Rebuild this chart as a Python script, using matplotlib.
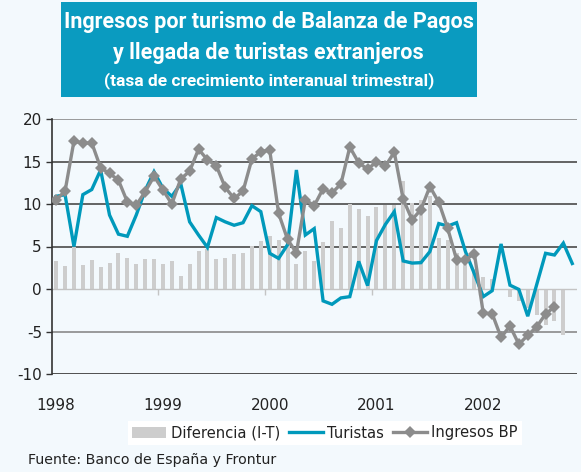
import matplotlib
matplotlib.use("Agg")
import matplotlib.pyplot as plt
from matplotlib.patches import Rectangle, Patch
from matplotlib.lines import Line2D
import numpy as np

# ---- data (monthly, Jan 1998 .. Nov 2002) ----
year_labels = ["1998", "1999", "2000", "2001", "2002"]

diferencia = [3.3, 2.75, 5.0, 2.8, 3.4, 2.6, 3.05, 4.2, 3.65, 3.0, 3.5, 3.5,
              3.0, 3.3, 1.55, 3.0, 4.5, 4.65, 3.5, 3.65, 4.1, 4.25, 5.1, 5.65,
              6.2, 5.8, 6.0, 2.9, 4.5, 3.3, 5.55, 8.0, 7.2, 10.0, 9.4, 8.6,
              9.6, 9.9, 9.9, 12.7, 10.1, 10.5, 10.9, 6.0, 5.8, 4.2, 3.0, 2.3,
              1.45, 1.2, -0.1, -0.9, -1.4, -2.2, -3.0, -4.2, -3.8, -5.4]

turistas = [10.9, 11.1, 5.0, 11.1, 11.7, 14.0, 8.7, 6.45, 6.2, 8.7, 11.6, 13.8,
            11.85, 10.9, 12.4, 7.9, 6.35, 4.9, 8.4, 7.9, 7.5, 7.8, 9.8, 9.1,
            4.2, 3.6, 5.2, 14.0, 6.35, 7.1, -1.4, -1.8, -1.05, -0.9, 3.25, 0.4,
            5.7, 7.6, 9.1, 3.3, 3.05, 3.1, 4.4, 7.7, 7.4, 7.8, 4.4, 1.8,
            -0.9, -0.2, 5.3, 0.45, -0.05, -3.2, 0.5, 4.2, 4.0, 5.4, 3.0]

ingresos = [10.5, 11.5, 17.4, 17.15, 17.2, 14.25, 13.6, 12.8, 10.25, 9.85, 11.45, 13.25,
            11.65, 10.0, 12.95, 13.85, 16.45, 15.2, 14.5, 11.95, 10.65, 11.5, 15.3, 16.15,
            16.35, 8.9, 5.85, 4.25, 10.5, 9.8, 11.8, 11.3, 12.35, 16.7, 14.85, 14.1,
            14.95, 14.45, 16.1, 10.55, 8.15, 9.35, 12.05, 10.2, 7.15, 3.45, 3.45, 4.15,
            -2.85, -2.9, -5.7, -4.35, -6.5, -5.45, -4.45, -2.95, -2.1]

# ---- style ----
BG = "#F3F9FD"
TEAL = "#0A9BC0"
BLUE = "#0099BB"
GRAY = "#8C8C8C"
BARC = "#CDCDCD"

plt.rcParams["font.family"] = ["DejaVu Sans"]

fig = plt.figure(figsize=(5.81, 4.72), dpi=100, facecolor=BG)
ax = fig.add_axes([51.7 / 581, 1 - 374 / 472, (576.7 - 51.7) / 581, (374 - 119) / 472])
ax.set_facecolor(BG)

x_bar = np.arange(len(diferencia))
x_tur = np.arange(len(turistas))
x_ing = np.arange(len(ingresos))

# gridlines
grid_vals = [20, 15, 10, 5, -5, -10]
grid_cols = ["#8A8A8A", "#4A4A4A", "#4A4A4A", "#4A4A4A", "#8A8A8A", "#333333"]
for gv, gc in zip(grid_vals, grid_cols):
    ax.axhline(gv, color=gc, lw=1.2, zorder=1)

ax.bar(x_bar, diferencia, width=0.45, color=BARC, zorder=2, label="Diferencia (I-T)")
# category axis at zero
ax.axhline(0, color="#C4C4C4", lw=1.0, zorder=2.5)
ax.vlines([11.5, 23.5, 35.5, 47.5], -0.75, 0, color="#C4C4C4", lw=1.0, zorder=2.5)

ax.plot(x_tur, turistas, color=BLUE, lw=2.4, zorder=3, solid_joinstyle="miter",
        label="Turistas")
ax.plot(x_ing, ingresos, color=GRAY, lw=2.4, marker="D", markersize=6.5,
        markeredgewidth=0, zorder=4, label="Ingresos BP")

ax.set_xlim(-0.5, 58.5)
ax.set_ylim(-10, 20)
ax.set_yticks([20, 15, 10, 5, 0, -5, -10])
ax.set_yticklabels(["20", "15", "10", "5", "0", "-5", "-10"], fontsize=11, color="#222222")
ax.set_xticks([0, 12, 24, 36, 48])
ax.set_xticklabels(year_labels, fontsize=11, color="#222222")
ax.tick_params(axis="x", length=0, pad=17)
ax.tick_params(axis="y", length=4, width=1, color="#333333", pad=3)

for s in ["top", "right", "bottom"]:
    ax.spines[s].set_visible(False)
ax.spines["left"].set_color("#333333")
ax.spines["left"].set_linewidth(1.2)

# title box
fig.patches.append(Rectangle((61 / 581, 1 - 97 / 472), (476.7 - 61) / 581, 95 / 472,
                             transform=fig.transFigure, facecolor=TEAL, edgecolor="none",
                             zorder=0))
cx = (61 + 476.7) / 2 / 581
fig.text(cx, 1 - 22 / 472, "Ingresos por turismo de Balanza de Pagos", color="white",
         fontsize=15.5, fontweight="bold", ha="center", va="center", family="Roboto")
fig.text(cx, 1 - 53 / 472, "y llegada de turistas extranjeros", color="white",
         fontsize=15.5, fontweight="bold", ha="center", va="center", family="Roboto")
fig.text(cx, 1 - 81 / 472, "(tasa de crecimiento interanual trimestral)", color="white",
         fontsize=12.5, fontweight="bold", ha="center", va="center", family="Roboto")

# legend
handles = [Patch(facecolor=BARC, edgecolor="none"),
           Line2D([], [], color=BLUE, lw=2.4),
           Line2D([], [], color=GRAY, lw=2.4, marker="D", markersize=6, markeredgewidth=0)]
leg = fig.legend(handles, ["Diferencia (I-T)", "Turistas", "Ingresos BP"],
                 loc="center", bbox_to_anchor=(325 / 581, 1 - 433 / 472), ncol=3,
                 frameon=True, fancybox=False, facecolor="white", edgecolor="none",
                 framealpha=1, fontsize=10.6, handlelength=2.3, handleheight=0.8,
                 handletextpad=0.3, columnspacing=0.6, borderpad=0.3)
for t in leg.get_texts():
    t.set_color("#222222")

fig.text(28 / 581, 1 - 460 / 472, "Fuente: Banco de España y Frontur", fontsize=10.2,
         color="#222222", ha="left", va="center")

fig.savefig("out.png", dpi=100, facecolor=BG)
